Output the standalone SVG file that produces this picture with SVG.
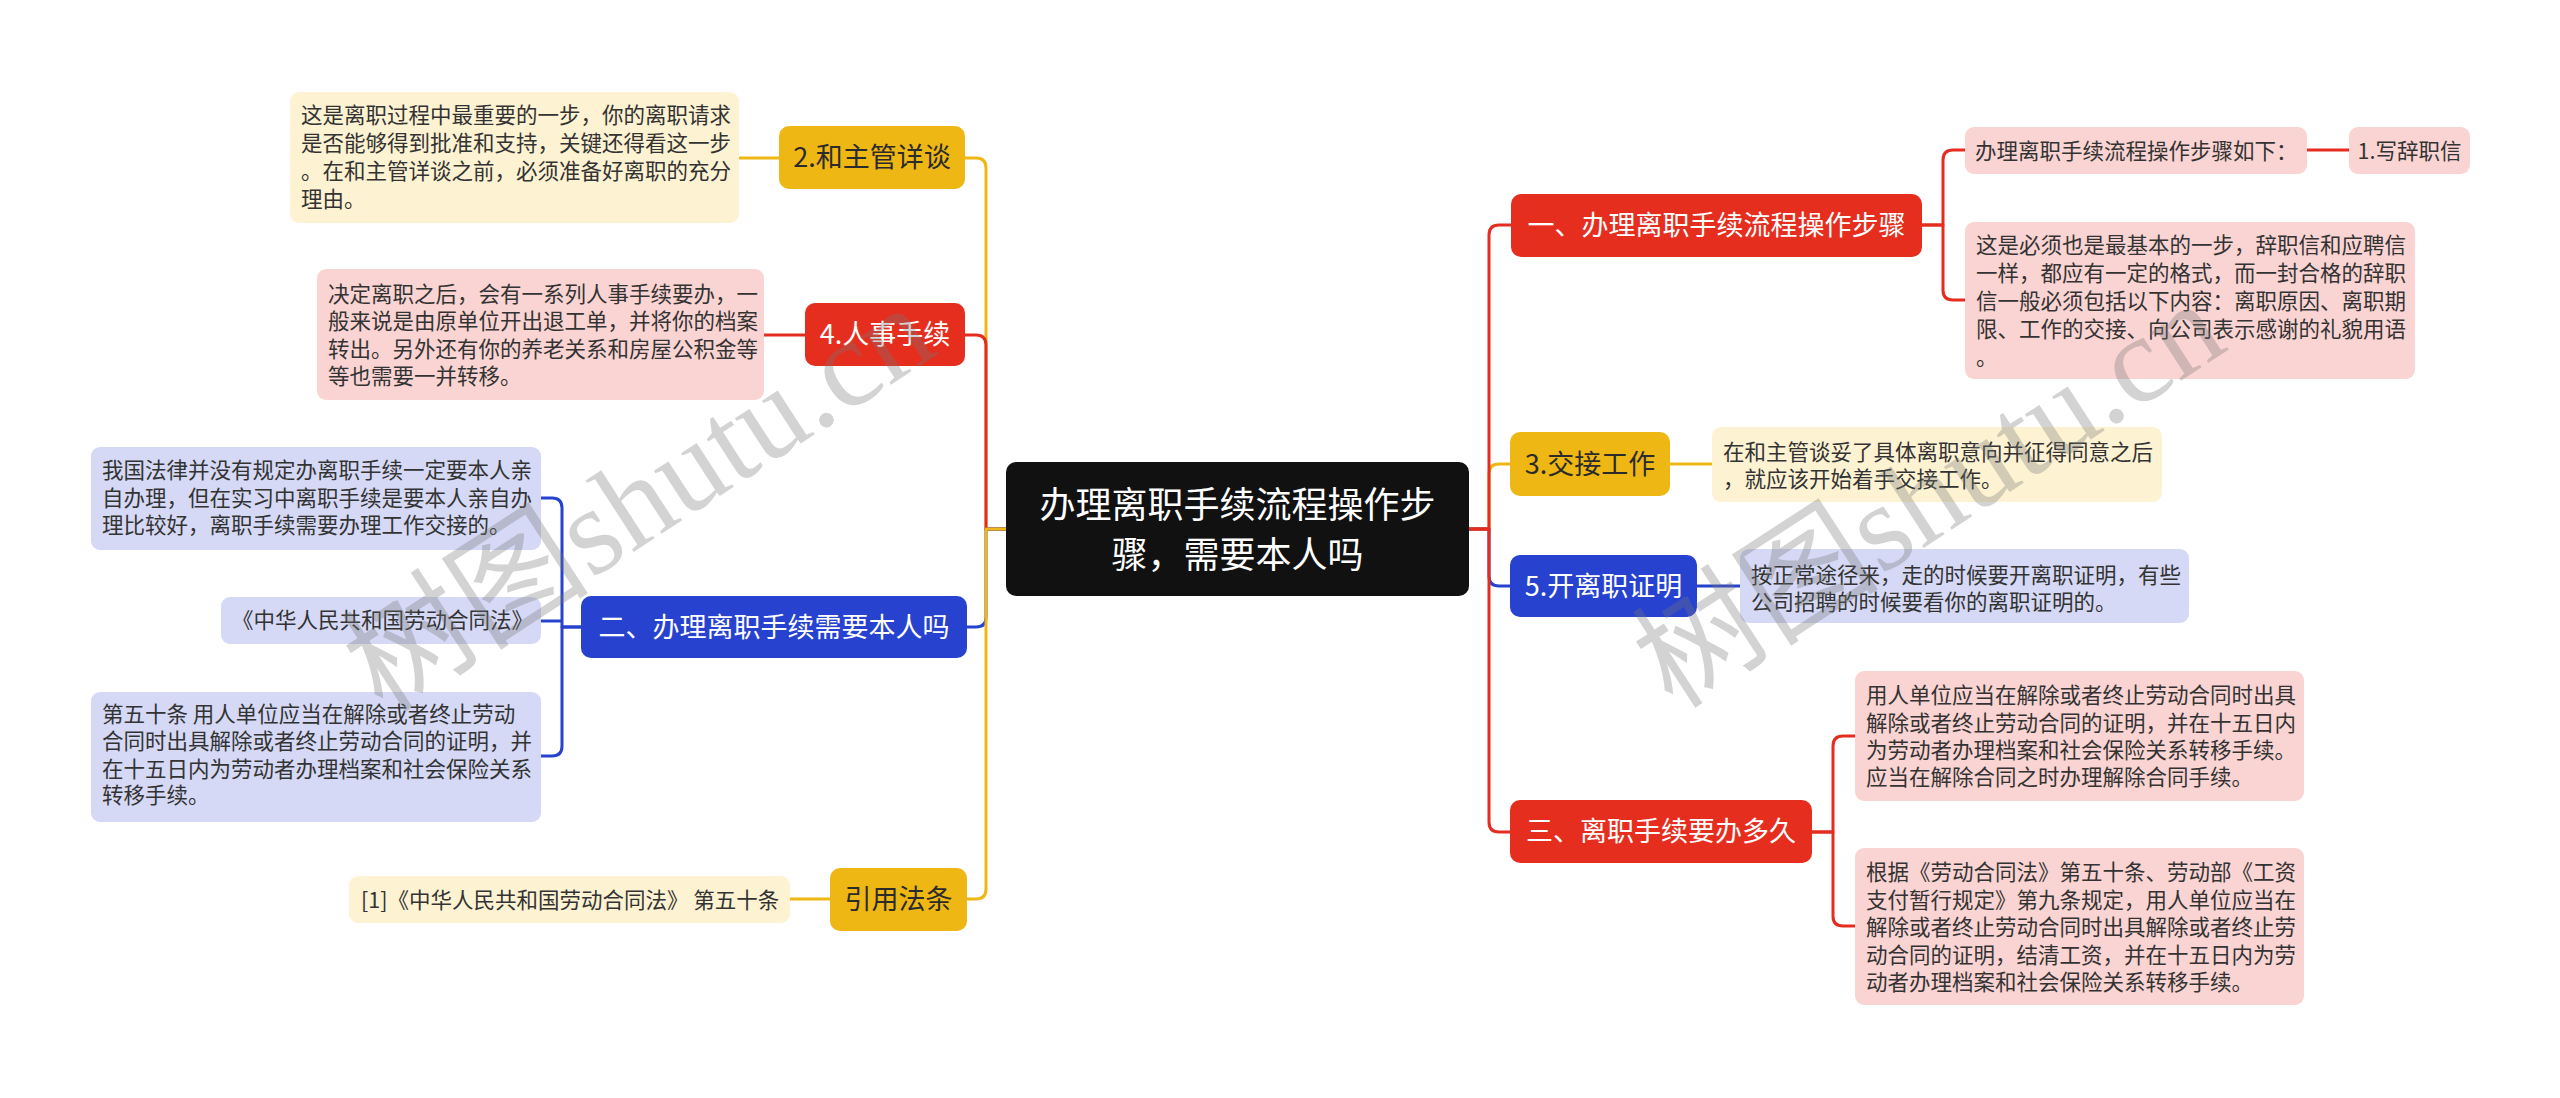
<svg xmlns="http://www.w3.org/2000/svg" width="2560" height="1098" viewBox="0 0 2560 1098">
<style>
.t{font-family:"Noto Sans CJK SC","Noto Sans",sans-serif}
.leaf{font-size:21.5px;fill:#333}
.main{font-size:27px;text-anchor:middle}
.dk{fill:#2b2b2b}
.wt{fill:#ffffff}
.c{fill:none;stroke-width:3;stroke-linejoin:round}
.cy{stroke:#efb714}
.cr{stroke:#e42c1f}
.cb{stroke:#2742cf}
.ny{fill:#efb714}
.nr{fill:#e62e1f}
.nb{fill:#2742cf}
.ly{fill:#fdf2d2}
.lr{fill:#fad4d2}
.lb{fill:#d5d9f5}
.wm{font-family:"Liberation Serif","Noto Sans CJK SC",serif;font-size:124px;fill:#777;fill-opacity:0.32;text-anchor:middle}
</style>
<rect width="2560" height="1098" fill="#ffffff"/>
<g id="connectors">
<path class="c cy" d="M1006,529 H986 V168 Q986,158 976,158 H965"/>
<path class="c cr" d="M1006,529 H986 V345 Q986,335 976,335 H965"/>
<path class="c cb" d="M1006,529 H986 V617 Q986,627 976,627 H965"/>
<path class="c cy" d="M1006,529 H986 V889 Q986,899 976,899 H965"/>
<path class="c cy" d="M1469,529 H1489 V474 Q1489,464 1499,464 H1510"/>
<path class="c cb" d="M1469,529 H1489 V576 Q1489,586 1499,586 H1510"/>
<path class="c cr" d="M1469,529 H1489 V235 Q1489,225 1499,225 H1511"/>
<path class="c cr" d="M1469,529 H1489 V822 Q1489,832 1499,832 H1510"/>
<path class="c cy" d="M779,158 H739"/>
<path class="c cr" d="M805,335 H764"/>
<path class="c cb" d="M581,627 H562 V508 Q562,498 552,498 H541"/>
<path class="c cb" d="M581,627 H562 V746 Q562,756 552,756 H541"/>
<path class="c cb" d="M562,621 H541"/>
<path class="c cy" d="M830,899 H790"/>
<path class="c cr" d="M1922,225 H1943 V160 Q1943,150 1953,150 H1965"/>
<path class="c cr" d="M1922,225 H1943 V290 Q1943,300 1953,300 H1965"/>
<path class="c cr" d="M2307,150 H2349"/>
<path class="c cy" d="M1670,464 H1712"/>
<path class="c cb" d="M1697,586 H1740"/>
<path class="c cr" d="M1812,832 H1833 V746 Q1833,736 1843,736 H1855"/>
<path class="c cr" d="M1812,832 H1833 V916 Q1833,926 1843,926 H1855"/>
</g>
<g id="center">
<rect x="1006" y="462" width="463" height="134" rx="10" fill="#111111"/>
<text class="t wt" x="1237.5" y="518" font-size="36" text-anchor="middle">办理离职手续流程操作步</text>
<text class="t wt" x="1237.5" y="568" font-size="36" text-anchor="middle">骤，需要本人吗</text>
</g>
<g id="n-talk">
<rect class="ny" x="779" y="126" width="186" height="63" rx="10"/>
<text class="t main dk" x="872" y="167">2.和主管详谈</text>
</g>
<g id="n-talk-leaf">
<rect class="ly" x="290" y="92" width="449" height="131" rx="9"/>
<text class="t leaf" x="301" y="123">这是离职过程中最重要的一步，你的离职请求</text>
<text class="t leaf" x="301" y="151">是否能够得到批准和支持，关键还得看这一步</text>
<text class="t leaf" x="301" y="179">。在和主管详谈之前，必须准备好离职的充分</text>
<text class="t leaf" x="301" y="207">理由。</text>
</g>
<g id="n-hr">
<rect class="nr" x="805" y="303" width="160" height="63" rx="10"/>
<text class="t main wt" x="885" y="344">4.人事手续</text>
</g>
<g id="n-hr-leaf">
<rect class="lr" x="317" y="269" width="447" height="131" rx="9"/>
<text class="t leaf" x="328" y="302">决定离职之后，会有一系列人事手续要办，一</text>
<text class="t leaf" x="328" y="329">般来说是由原单位开出退工单，并将你的档案</text>
<text class="t leaf" x="328" y="357">转出。另外还有你的养老关系和房屋公积金等</text>
<text class="t leaf" x="328" y="384">等也需要一并转移。</text>
</g>
<g id="n-self">
<rect class="nb" x="581" y="596" width="386" height="62" rx="10"/>
<text class="t main wt" x="774" y="637">二、办理离职手续需要本人吗</text>
</g>
<g id="n-self-leaf1">
<rect class="lb" x="91" y="447" width="450" height="103" rx="9"/>
<text class="t leaf" x="102" y="478">我国法律并没有规定办离职手续一定要本人亲</text>
<text class="t leaf" x="102" y="506">自办理，但在实习中离职手续是要本人亲自办</text>
<text class="t leaf" x="102" y="533">理比较好，离职手续需要办理工作交接的。</text>
</g>
<g id="n-self-leaf2">
<rect class="lb" x="221" y="597" width="320" height="47" rx="9"/>
<text class="t leaf" x="232" y="628">《中华人民共和国劳动合同法》</text>
</g>
<g id="n-self-leaf3">
<rect class="lb" x="91" y="692" width="450" height="130" rx="9"/>
<text class="t leaf" x="102" y="722">第五十条 用人单位应当在解除或者终止劳动</text>
<text class="t leaf" x="102" y="749">合同时出具解除或者终止劳动合同的证明，并</text>
<text class="t leaf" x="102" y="777">在十五日内为劳动者办理档案和社会保险关系</text>
<text class="t leaf" x="102" y="803">转移手续。</text>
</g>
<g id="n-law">
<rect class="ny" x="830" y="868" width="137" height="63" rx="10"/>
<text class="t main dk" x="898.5" y="909">引用法条</text>
</g>
<g id="n-law-leaf">
<rect class="ly" x="349" y="876" width="441" height="47" rx="9"/>
<text class="t leaf" x="361" y="908">[1]《中华人民共和国劳动合同法》 第五十条</text>
</g>
<g id="n-steps">
<rect class="nr" x="1511" y="194" width="411" height="63" rx="10"/>
<text class="t main wt" x="1716.5" y="235">一、办理离职手续流程操作步骤</text>
</g>
<g id="n-steps-leaf1">
<rect class="lr" x="1965" y="127" width="342" height="47" rx="9"/>
<text class="t leaf" x="1975" y="159">办理离职手续流程操作步骤如下：</text>
</g>
<g id="n-steps-letter">
<rect class="lr" x="2349" y="127" width="121" height="47" rx="9"/>
<text class="t leaf" x="2409.5" y="159" text-anchor="middle">1.写辞职信</text>
</g>
<g id="n-steps-leaf2">
<rect class="lr" x="1965" y="222" width="450" height="157" rx="9"/>
<text class="t leaf" x="1976" y="253">这是必须也是最基本的一步，辞职信和应聘信</text>
<text class="t leaf" x="1976" y="281">一样，都应有一定的格式，而一封合格的辞职</text>
<text class="t leaf" x="1976" y="309">信一般必须包括以下内容：离职原因、离职期</text>
<text class="t leaf" x="1976" y="337">限、工作的交接、向公司表示感谢的礼貌用语</text>
<text class="t leaf" x="1976" y="365">。</text>
</g>
<g id="n-handover">
<rect class="ny" x="1510" y="432" width="160" height="64" rx="10"/>
<text class="t main dk" x="1590" y="474">3.交接工作</text>
</g>
<g id="n-handover-leaf">
<rect class="ly" x="1712" y="427" width="450" height="75" rx="9"/>
<text class="t leaf" x="1723" y="460">在和主管谈妥了具体离职意向并征得同意之后</text>
<text class="t leaf" x="1723" y="487">，就应该开始着手交接工作。</text>
</g>
<g id="n-cert">
<rect class="nb" x="1510" y="555" width="187" height="62" rx="10"/>
<text class="t main wt" x="1603.5" y="596">5.开离职证明</text>
</g>
<g id="n-cert-leaf">
<rect class="lb" x="1740" y="549" width="449" height="74" rx="9"/>
<text class="t leaf" x="1751" y="583">按正常途径来，走的时候要开离职证明，有些</text>
<text class="t leaf" x="1751" y="610">公司招聘的时候要看你的离职证明的。</text>
</g>
<g id="n-time">
<rect class="nr" x="1510" y="800" width="302" height="63" rx="10"/>
<text class="t main wt" x="1661" y="841">三、离职手续要办多久</text>
</g>
<g id="n-time-leaf1">
<rect class="lr" x="1855" y="671" width="449" height="130" rx="9"/>
<text class="t leaf" x="1866" y="703">用人单位应当在解除或者终止劳动合同时出具</text>
<text class="t leaf" x="1866" y="731">解除或者终止劳动合同的证明，并在十五日内</text>
<text class="t leaf" x="1866" y="758">为劳动者办理档案和社会保险关系转移手续。</text>
<text class="t leaf" x="1866" y="785">应当在解除合同之时办理解除合同手续。</text>
</g>
<g id="n-time-leaf2">
<rect class="lr" x="1855" y="848" width="449" height="157" rx="9"/>
<text class="t leaf" x="1866" y="880">根据《劳动合同法》第五十条、劳动部《工资</text>
<text class="t leaf" x="1866" y="908">支付暂行规定》第九条规定，用人单位应当在</text>
<text class="t leaf" x="1866" y="935">解除或者终止劳动合同时出具解除或者终止劳</text>
<text class="t leaf" x="1866" y="963">动合同的证明，结清工资，并在十五日内为劳</text>
<text class="t leaf" x="1866" y="990">动者办理档案和社会保险关系转移手续。</text>
</g>
<g id="watermark">
<text class="wm" x="640" y="540" transform="rotate(-33 640 500)">树图shutu.cn</text>
<text class="wm" x="1930" y="536" transform="rotate(-33 1930 496)">树图shutu.cn</text>
</g>
</svg>
